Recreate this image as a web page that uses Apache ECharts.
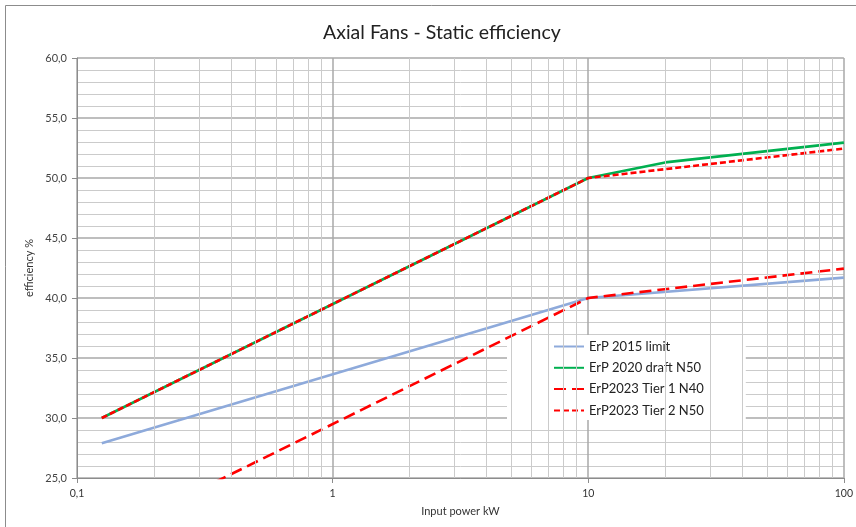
<!DOCTYPE html>
<html>
<head>
<meta charset="utf-8">
<script src="https://cdn.jsdelivr.net/npm/echarts@6/dist/echarts.min.js"></script>
<style>html,body{margin:0;padding:0;background:#fff}#c{width:856px;height:527px}</style>
</head>
<body>
<div id="c"></div>
<script>
const titleText = 'Axial Fans - Static efficiency';
const seriesNames = ['ErP 2015 limit', 'ErP 2020 draft N50', 'ErP2023 Tier 1 N40', 'ErP2023 Tier 2 N50'];
const erp2015X = [0.125, 10, 100];
const erp2015Y = [27.9, 40.0, 41.7];
const erp2020X = [0.125, 10, 20, 100];
const erp2020Y = [30.0, 50.0, 51.3, 52.95];
const tier1X = [0.125, 10, 100];
const tier1Y = [20.0, 40.0, 42.45];
const tier2X = [0.125, 10, 100];
const tier2Y = [30.0, 50.0, 52.45];
const xMinorTicks = [0.2,0.3,0.4,0.5,0.6,0.7,0.8,0.9,2,3,4,5,6,7,8,9,20,30,40,50,60,70,80,90];
const yTicks = { min: 25, max: 60, interval: 5 };
const xRange = { min: 0.1, max: 100 };

const FONT = 'Lato';
const pairs = (xs, ys) => xs.map((x, i) => [x, ys[i]]);

const chart = echarts.init(document.getElementById('c'), null, { renderer: 'canvas' });
chart.setOption({
  animation: false,
  backgroundColor: '#fff',
  textStyle: { fontFamily: FONT },
  title: {
    text: titleText, left: 323, top: 23, padding: 0,
    textStyle: { fontFamily: FONT, fontSize: 19.5, fontWeight: 'normal', color: '#222' }
  },
  graphic: [{
    type: 'rect', silent: true, z: -10,
    shape: { x: 5.5, y: 5.5, width: 1000, height: 1000 },
    style: { fill: 'none', stroke: '#8c8c8c', lineWidth: 1 }
  }],
  grid: { left: 77, right: 10, top: 58, bottom: 49 },
  legend: {
    data: seriesNames,
    orient: 'vertical',
    left: 507, top: 335,
    backgroundColor: '#fff',
    padding: [5, 42, 3, 46],
    itemWidth: 30, itemHeight: 14, itemGap: 8.3,
    itemStyle: { opacity: 0 },
    textStyle: { fontFamily: FONT, fontSize: 13, color: '#222' }
  },
  xAxis: {
    type: 'log', logBase: 10, min: xRange.min, max: xRange.max,
    name: 'Input power kW', nameLocation: 'middle', nameGap: 28,
    nameTextStyle: { fontFamily: FONT, fontSize: 11, color: '#333' },
    axisLine: { show: true, lineStyle: { color: '#8c8c8c', width: 1 } },
    axisTick: { show: true, length: 5, lineStyle: { color: '#8c8c8c' } },
    axisLabel: { fontFamily: FONT, fontSize: 10.5, color: '#333', margin: 10,
      formatter: v => String(v).replace('.', ',') },
    splitLine: { show: true, lineStyle: { color: '#a8a8a8', width: 1.5 } }
  },
  yAxis: {
    type: 'value', min: yTicks.min, max: yTicks.max, interval: yTicks.interval,
    name: 'efficiency %', nameLocation: 'middle', nameGap: 39, nameRotate: 90,
    nameTextStyle: { fontFamily: FONT, fontSize: 11, color: '#333' },
    axisLine: { show: true, lineStyle: { color: '#8c8c8c', width: 1 } },
    axisTick: { show: true, length: 5, lineStyle: { color: '#8c8c8c' } },
    axisLabel: { fontFamily: FONT, fontSize: 11, color: '#444', margin: 10,
      formatter: v => v.toFixed(1).replace('.', ',') },
    splitLine: { show: true, lineStyle: { color: '#a8a8a8', width: 1.5 } },
    minorTick: { show: false, splitNumber: 5 },
    minorSplitLine: { show: true, lineStyle: { color: '#cbcbcb', width: 1 } }
  },
  series: [
    {
      name: '_minor', type: 'line', data: [], z: 1, silent: true,
      markLine: {
        silent: true, symbol: ['none', 'none'], animation: false,
        label: { show: false },
        lineStyle: { color: '#cbcbcb', width: 1, type: 'solid' },
        data: xMinorTicks.map(v => ({ xAxis: v }))
      }
    },
    {
      name: seriesNames[0], type: 'line', data: pairs(erp2015X, erp2015Y),
      symbol: 'none', z: 3, color: '#8eaadb',
      lineStyle: { color: '#8eaadb', width: 2.6 }
    },
    {
      name: seriesNames[1], type: 'line', data: pairs(erp2020X, erp2020Y),
      symbol: 'none', z: 3, color: '#00b050',
      lineStyle: { color: '#00b050', width: 2.6 }
    },
    {
      name: seriesNames[2], type: 'line', data: pairs(tier1X, tier1Y),
      symbol: 'none', z: 4, color: '#ff0000',
      lineStyle: { color: '#ff0000', width: 2.6, type: [12, 6] }
    },
    {
      name: seriesNames[3], type: 'line', data: pairs(tier2X, tier2Y),
      symbol: 'none', z: 4, color: '#ff0000',
      lineStyle: { color: '#ff0000', width: 2.6, type: [6, 3] }
    }
  ]
});
</script>
</body>
</html>
